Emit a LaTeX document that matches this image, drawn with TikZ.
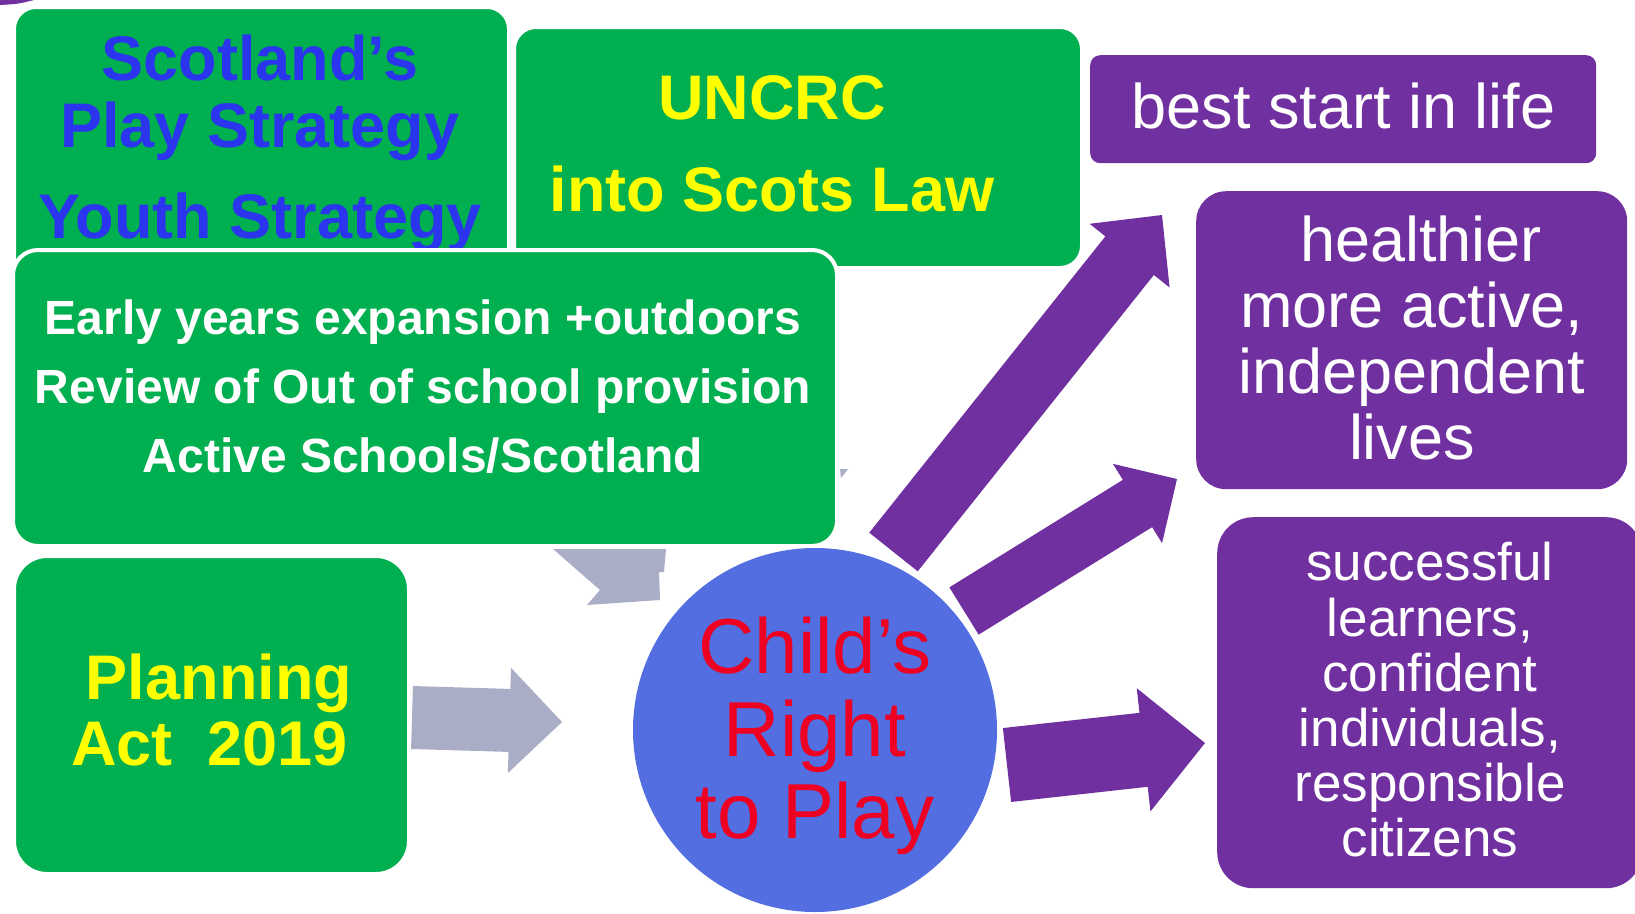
\documentclass[tikz,border=0pt]{standalone}
\usepackage{fontspec}
\setmainfont{Liberation Sans}
\usetikzlibrary{arrows.meta}
\definecolor{playGreen}{HTML}{00AF50}
\definecolor{playPurple}{HTML}{7030A0}
\definecolor{playBlue}{HTML}{526EE0}
\definecolor{playGrey}{HTML}{AAADC6}
\definecolor{playYellow}{HTML}{FFFF00}
\definecolor{playRed}{HTML}{EE0022}
\definecolor{playInk}{HTML}{2B35EE}

\tikzset{
  panel/.style={rectangle, inner sep=0pt, anchor=north west},
  greenPanel/.style={panel, fill=playGreen, draw=white, line width=4pt},
  purplePanel/.style={panel, fill=playPurple},
  words/.style={inner sep=0pt, align=center},
  blockArrow/.style n args={3}{line width=#1,
    -{Triangle[length=#3, width=#2, line width=1.5pt]}},
}

\begin{document}
\begin{tikzpicture}[x=1pt, y=-1pt]
  \useasboundingbox (0,0) rectangle (1635,913);
  \clip (0,0) rectangle (1635,913);

  % pieces that peek out from behind the panels
  \fill[playPurple] (0,0) -- (34,0) .. controls (18,4) .. (0,5) -- cycle;
  \fill[playGrey] (553,549) -- (666,549) -- (664,572) -- (659,572) -- (660,600)
    -- (587,605) -- (600,590) -- cycle;
  \fill[playGrey] (840,469) -- (848,469) -- (841,478) -- cycle;

  % green panels, the lower one laid over the two above it
  \node[greenPanel, rounded corners=22pt, minimum width=495pt, minimum height=280pt] (strategy) at (12,5) {};
  \node[words, text=playInk, font=\fontsize{63}{67}\selectfont\bfseries] (strategyText) at (260,143.6)
    {Scotland’s\\Play Strategy\\[24pt]Youth Strategy};
  \node[greenPanel, rounded corners=22pt, minimum width=568pt, minimum height=241pt] (uncrc) at (512,25) {};
  \node[words, text=playYellow, font=\fontsize{63}{66}\selectfont\bfseries] (uncrcText) at (772,143.5)
    {UNCRC\\[26pt]into Scots Law};
  \node[greenPanel, rounded corners=25pt, minimum width=824pt, minimum height=296pt] (early) at (11,248) {};
  \node[words, text=white, font=\fontsize{48}{69}\selectfont\bfseries] (earlyText) at (423,386.3)
    {Early years expansion +outdoors\\Review of Out of school provision\\Active Schools/Scotland};
  \node[greenPanel, rounded corners=33pt, minimum width=395pt, minimum height=318pt] (planning) at (12,554) {};
  \node[words, text=playYellow, font=\fontsize{63}{66}\selectfont\bfseries] (planningText) at (209.5,709.7)
    {\hspace*{.3em}Planning\\Act~~2019};

  % the child in the middle
  \node[circle, fill=playBlue, inner sep=0pt, minimum size=364pt] (child) at (815,730) {};
  \node[words, text=playRed, font=\fontsize{78}{82.5}\selectfont] (childText) at (815,736.2)
    {Child’s\\Right\\to Play};

  % outcomes
  \node[purplePanel, rounded corners=10pt, minimum width=506pt, minimum height=108pt] (start) at (1090,55) {};
  \node[purplePanel, rounded corners=30pt, minimum width=431pt, minimum height=298pt] (healthy) at (1196,191) {};
  \node[purplePanel, rounded corners=36pt, minimum width=425pt, minimum height=371pt] (learners) at (1217,517) {};

  \node[words, text=white, font=\fontsize{63}{66}\selectfont] (startText) at (1343.5,106)
    {best start in life};
  \node[words, text=white, font=\fontsize{63}{66}\selectfont] (healthyText) at (1412,337.9)
    {\hspace*{.28em}healthier\\more active,\\independent\\lives};
  \node[words, text=white, font=\fontsize{53}{55.2}\selectfont] (learnersText) at (1430,699.9)
    {successful\\learners,\\confident\\individuals,\\responsible\\citizens};

  % block arrows
  \coordinate (planningOut) at (412,717.5);
  \coordinate (childIn) at (562,722);
  \coordinate (toHealthyA) at (893.5,552);
  \coordinate (healthyInA) at (1162,215);
  \coordinate (toHealthyB) at (964,611);
  \coordinate (healthyInB) at (1177,479);
  \coordinate (toLearners) at (1007,765);
  \coordinate (learnersIn) at (1205,743);

  \draw[playGrey, blockArrow={63pt}{105pt}{52.6pt}] (planningOut) -- (childIn);
  \draw[playPurple, blockArrow={62pt}{102pt}{52pt}] (toHealthyA) -- (healthyInA);
  \draw[playPurple, blockArrow={55.6pt}{93pt}{46.5pt}] (toHealthyB) -- (healthyInB);
  \draw[playPurple, blockArrow={74.4pt}{123.7pt}{61.8pt}] (toLearners) -- (learnersIn);
\end{tikzpicture}
\end{document}
